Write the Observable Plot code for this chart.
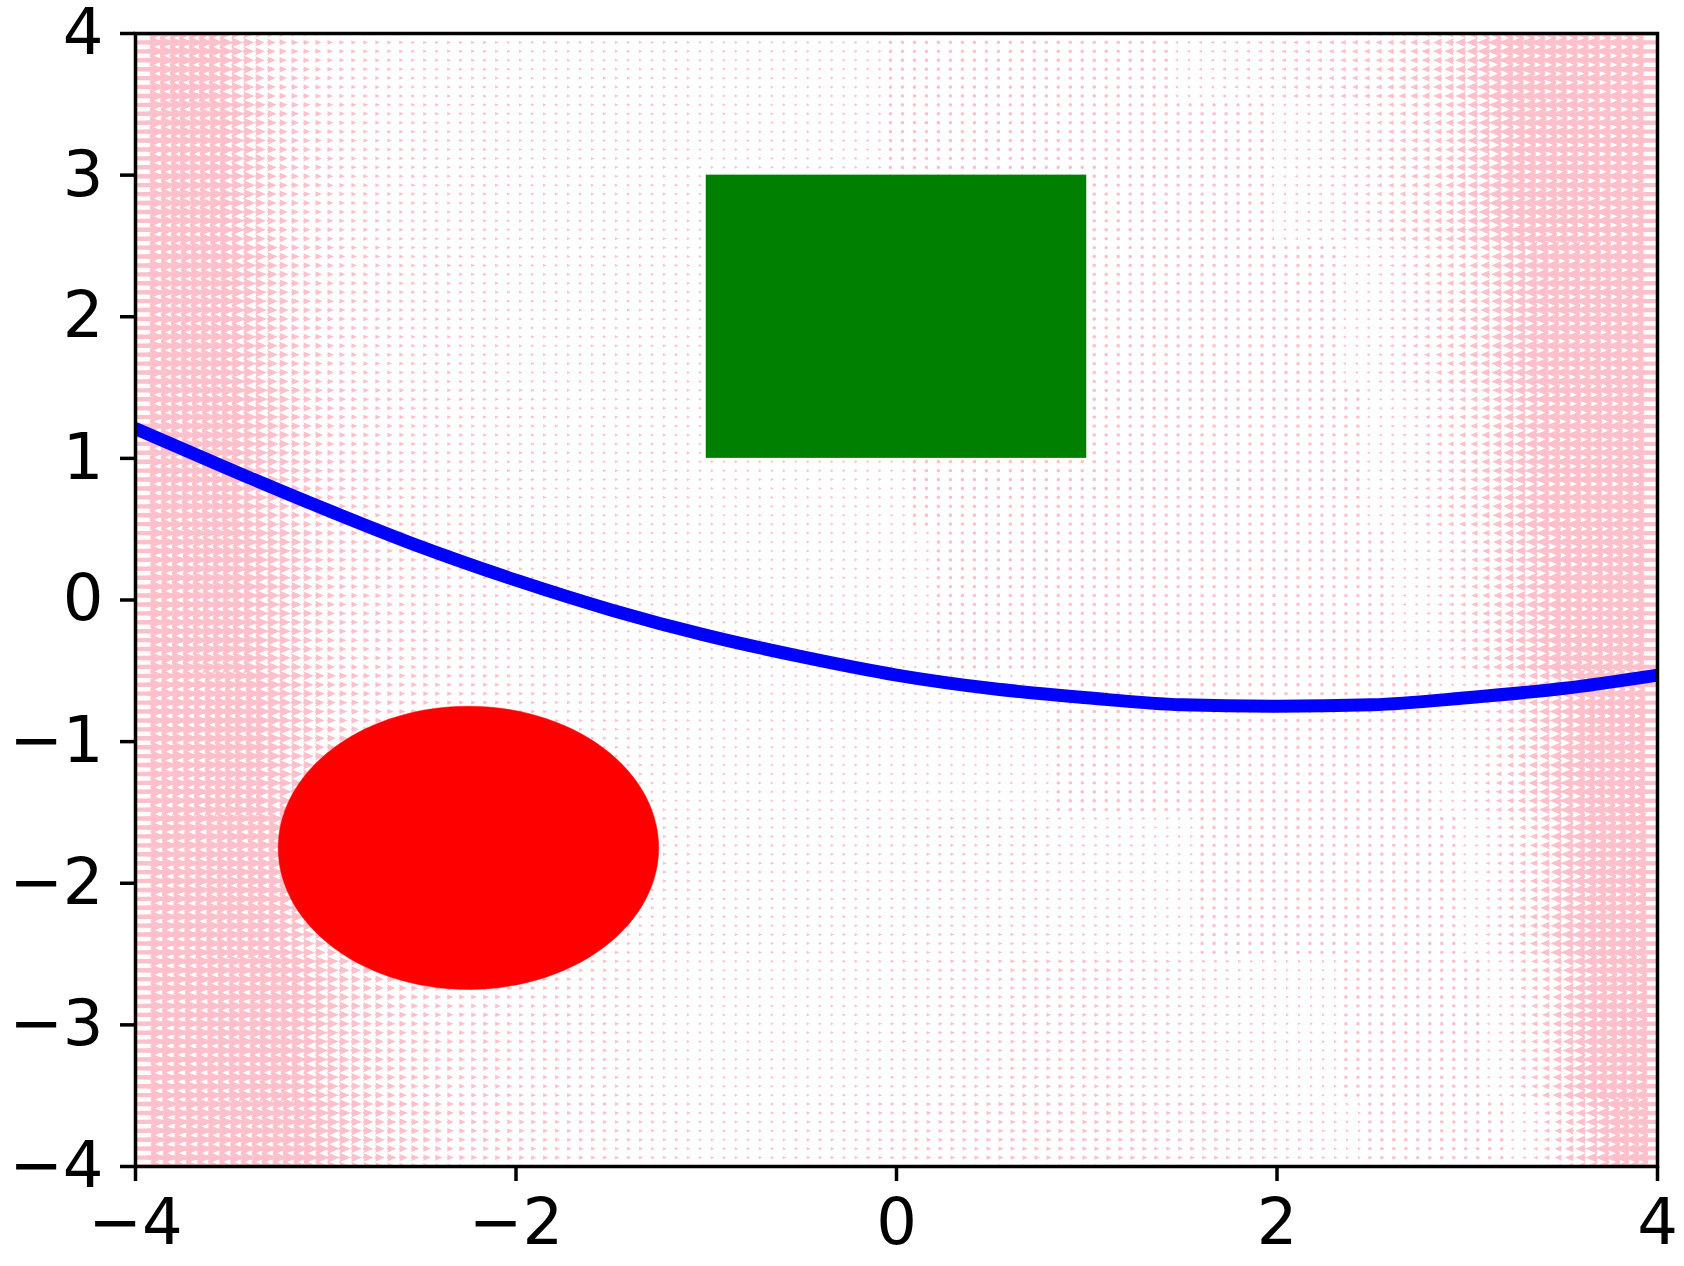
<!DOCTYPE html>
<html>
<head>
<meta charset="utf-8">
<style>html,body{margin:0;padding:0;background:#fff}</style>
<script src="https://cdn.jsdelivr.net/npm/d3@7"></script>
<script src="https://cdn.jsdelivr.net/npm/@observablehq/plot@0.6"></script>
</head>
<body>
<script>
const xTicks = [-4, -2, 0, 2, 4];
const yTicks = [-4, -3, -2, -1, 0, 1, 2, 3, 4];

const curveX = [-4, -3.5, -3, -2.5, -2, -1.5, -1, -0.5, 0, 0.5, 1, 1.5, 2, 2.5, 3, 3.5, 4];
const curveY = [1.21, 0.92, 0.64, 0.375, 0.14, -0.07, -0.25, -0.40, -0.53, -0.625, -0.69, -0.74, -0.75, -0.74, -0.69, -0.625, -0.53];

const rectX = [-1, 1];
const rectY = [1, 3];
const circleCentre = [-2.25, -1.75];
const circleRadius = 1;

// Signed arrow magnitude: one row per band y = 4, 3, ... -4,
// one value per arrow column (128 columns). Positive points right, negative left, 0 is a dot.
const fieldY4 = [29,27,25,22,20,18,16,14,12,11,9.5,8.5,7.8,7.3,6.8,6.3,5.8,5.3,5,5,4.9,4.6,4.4,4.1,4,4,4,4,4,4,3.9,3.6,
  3.5,3.5,3.5,3.5,3.5,3.5,3.5,3.5,3.5,3.5,3.5,3.5,3.5,3.5,3.4,3.1,3,3,3,3,3,3,3,3,3,3,3,3,3,3,3,0,
  0,0,0,0,0,0,0,0,0,0,0,0,0,0,0,0,0,0,0,0,0,0,0,-3,-3.1,-3.4,-3.6,-3.9,-4,-4,-4.1,-4.4,
  -4.6,-4.9,-5,-5,-5.3,-5.8,-6,-6,-6.3,-6.8,-7.3,-7.8,-8.3,-8.8,-9.5,-10.5,-11.5,-12.5,-14,-15,-16.5,-17.5,-19,-20,-21.5,-22.5,-23.5,-24.5,-25.5,-26.5,-27.5,-28.5];
const fieldY3 = [29,28,26,23,21,19,17,15,13,12,10.5,9.5,8.6,7.9,7.3,6.8,6.3,5.8,5.4,5.1,4.9,4.6,4.5,4.5,4.4,4.1,4,4,4,4,3.9,3.6,
  3.5,3.5,3.5,3.5,3.5,3.5,3.5,3.5,3.5,3.5,3.5,3.5,3.5,3.5,3.4,3.1,3,3,3,3,3,3,3,3,3,3,3,3,3,3,3,0,
  0,0,0,0,0,0,0,0,0,0,0,0,0,0,0,0,0,0,0,0,0,0,0,0,0,0,0,0,0,0,0,-3,
  -3.1,-3.4,-3.6,-3.9,-4.1,-4.4,-4.6,-4.9,-5.3,-5.8,-6.3,-6.8,-7.3,-7.8,-8.5,-9.5,-10.5,-11.5,-12.8,-14.2,-15.5,-16.5,-17.8,-19.2,-20.8,-22.2,-23.5,-24.5,-25.5,-26.5,-27.5,-28.5];
const fieldY2 = [29,28,26,24,22,20,18,16,14,13,11.5,10.5,9.5,8.5,7.8,7.3,6.8,6.3,5.9,5.6,5.4,5.1,4.9,4.6,4.5,4.5,4.4,4.1,4,4,3.9,3.6,
  3.5,3.5,3.5,3.5,3.5,3.5,3.5,3.5,3.5,3.5,3.5,3.5,3.5,3.5,3.4,3.1,3,3,3,3,3,3,3,3,3,3,3,3,3,3,3,0,
  0,0,0,0,0,0,0,0,0,0,0,0,0,0,0,0,0,0,0,0,0,0,0,0,0,0,0,0,0,0,0,0,0,0,0,0,0,-3,
  -3.1,-3.4,-3.8,-4.2,-4.8,-5.2,-5.8,-6.2,-6.9,-7.6,-8.5,-9.5,-10.5,-11.5,-12.8,-14.2,-15.8,-17.2,-18.8,-20.2,-21.8,-23.2,-24.8,-26.2,-27.5,-28.5];
const fieldY1 = [29,28,26,25,23,21,19,17,15,14,12.5,11.5,10.5,9.5,8.6,7.9,7.3,6.8,6.4,6.1,5.9,5.6,5.4,5.1,4.9,4.6,4.5,4.5,4.4,4.1,4,4,
  4,4,3.9,3.6,3.5,3.5,3.5,3.5,3.5,3.5,3.5,3.5,3.5,3.5,3.4,3.1,3,3,3,3,3,3,3,3,3,3,3,3,3,3,3,3,
  3,0,0,0,0,0,0,0,0,0,0,0,0,0,0,0,0,0,0,0,0,0,0,0,0,0,0,0,0,0,0,0,0,0,0,0,0,0,0,-3,
  -3.1,-3.4,-3.8,-4.2,-4.8,-5.2,-5.9,-6.6,-7.5,-8.5,-9.5,-10.5,-11.8,-13.2,-14.8,-16.2,-17.8,-19.2,-20.8,-22.2,-23.8,-25.2,-26.8,-28.2];
const fieldY0 = [29.5,28.5,27,26,24,22,20,18,16,15,13.5,12.5,11.5,10.5,9.5,8.5,7.8,7.3,6.9,6.6,6.4,6.1,5.9,5.6,5.4,5.1,5,5,4.9,4.6,4.4,4.1,
  4,4,4,4,4,4,3.9,3.6,3.5,3.5,3.5,3.5,3.5,3.5,3.4,3.1,3,3,3,3,3,3,3,3,3,3,3,3,3,3,3,3,
  3,3,3,0,0,0,0,0,0,0,0,0,0,0,0,0,0,0,0,0,0,0,0,0,0,0,0,0,0,0,0,0,0,0,0,0,0,0,0,0,0,-3,
  -3.1,-3.4,-3.8,-4.2,-4.9,-5.6,-6.5,-7.5,-8.5,-9.5,-10.8,-12.2,-13.8,-15.2,-16.8,-18.2,-19.8,-21.2,-23,-25,-26.8,-28.2];
const fieldYm1 = [29.5,28.5,27.5,26.5,25,24,22,20,18,17,15,14,12.5,11.5,10.5,9.5,8.8,8.3,7.8,7.3,6.9,6.6,6.4,6.1,5.9,5.6,5.4,5.1,5,5,4.9,4.6,
  4.5,4.5,4.4,4.1,4,4,4,4,4,4,3.9,3.6,3.5,3.5,3.4,3.1,3,3,3,3,3,3,3,3,3,3,3,3,3,3,3,3,
  3,3,3,3,3,3,3,3,3,3,3,3,3,0,0,0,0,0,0,0,0,0,0,0,0,0,0,0,0,0,0,0,0,0,0,0,0,0,0,0,0,0,0,0,0,-3,
  -3.3,-3.8,-4.4,-5.1,-6,-7,-8.1,-9.4,-10.8,-12.2,-13.8,-15.2,-17,-19,-21,-23,-25,-27];
const fieldYm2 = [29.8,29.2,28.5,27.5,26.5,25.5,24,22,20,19,17,16,14,13,11.5,10.5,9.8,9.3,8.8,8.3,7.8,7.3,6.9,6.6,6.4,6.1,5.9,5.6,5.5,5.5,5.4,5.1,
  5,5,4.9,4.6,4.5,4.5,4.5,4.5,4.4,4.1,4,4,4,4,3.9,3.6,3.5,3.5,3.5,3.5,3.5,3.5,3.5,3.5,3.5,3.5,3.5,3.5,3.5,3.5,
  3.5,3.5,3.6,3.9,4,4,4,4,4,4,4,4,4,4,3.9,3.6,3.5,3.5,3.5,3.5,3.5,3.5,3.4,3.1,3,3,3,0,0,0,0,0,
  0,0,0,0,0,0,0,0,0,0,0,0,0,0,0,0,0,-3,-3.4,-4.1,-4.9,-5.6,-6.6,-7.9,-9.4,-11.1,-12.8,-14.2,-16,-18,-20,-22,-24,-26];
const fieldYm3 = [29.8,29.2,28.8,28.2,27.5,26.5,25,24,22,21,19,18,16,15,13.5,12.5,11.5,10.5,9.8,9.3,8.8,8.3,7.8,7.3,6.9,6.6,6.4,6.1,6,6,5.8,5.3,
  5,5,5,5,4.9,4.6,4.5,4.5,4.4,4.1,3.9,3.6,3.4,3.1,3,3,3,3,3,3,3,3,3,3,3,3,3.1,3.4,3.5,3.5,3.6,3.9,
  4,4,4.1,4.4,4.5,4.5,4.5,4.5,4.6,4.9,5,5,5,5,5,5,5,5,4.9,4.6,4.5,4.5,4.4,4.1,4,4,3.9,3.6,3.5,3.5,
  3.4,3.1,3,3,3,3,3,0,0,0,0,0,0,0,0,0,0,0,0,-3,-3.5,-4.5,-5.5,-6.5,-7.8,-9.2,-11,-13,-15,-17,-19,-21,-23,-25];
const fieldYm4 = [30,30,29.8,29.2,28.5,27.5,26.5,25.5,24,23,21,20,18,17,15,14,12.5,11.5,10.8,10.3,9.8,9.3,8.8,8.3,7.8,7.3,6.9,6.6,6.4,6.1,6,6,
  5.9,5.6,5.4,5.1,5,5,4.9,4.6,4.5,4.5,4.4,4.1,4,4,3.9,3.6,3.5,3.5,3.5,3.5,3.5,3.5,3.6,3.9,4,4,4,4,4.1,4.4,
  4.5,4.5,4.6,4.9,5,5,5,5,5.1,5.4,5.5,5.5,5.5,5.5,5.5,5.5,5.5,5.5,5.5,5.5,5.5,5.5,5.4,5.1,5,5,5,5,4.9,4.6,4.5,4.5,
  4.4,4.1,4,4,3.9,3.6,3.4,3.1,3,0,0,0,0,0,0,0,0,0,0,0,0,-3,-3.5,-4.5,-5.8,-7.2,-8.8,-10.2,-12,-14,-16,-19,-21,-24];
const fieldRows = [fieldY4, fieldY3, fieldY2, fieldY1, fieldY0, fieldYm1, fieldYm2, fieldYm3, fieldYm4];

const pink = "#ffc0cb";
const black = "#000";
const sampleCount = 128;

// The arrows sit on a regular sample grid; each takes its magnitude from its row band and column.
const samples = d3.range(sampleCount).map((i) => -4 + (8 * i) / (sampleCount - 1));
const field = samples.flatMap((y) => {
  const row = fieldRows[Math.round(4 - y)];
  return samples.map((x, c) => ({
    x, y,
    length: Math.abs(row[c]),
    rotate: row[c] < 0 ? -90 : 90
  }));
});

const arrowShape = {
  draw(context, l) {
    if (l < 1) { // a vanishing arrow is drawn as a small dot
      const r = 1.9;
      context.moveTo(r, 0);
      for (let k = 1; k < 6; ++k) context.lineTo(r * Math.cos(k * Math.PI / 3), r * Math.sin(k * Math.PI / 3));
      context.closePath();
      return;
    }
    const headLength = 15, headHalf = 6.5, shaftHalf = 2.2;
    const s = Math.min(1, l / headLength);
    const hl = headLength * s, hh = Math.max(1.6, headHalf * s), sh = Math.max(0.8, shaftHalf * s);
    context.moveTo(-sh, 0);
    context.lineTo(-sh, -(l - hl * 0.9));
    context.lineTo(-hh, -(l - hl));
    context.lineTo(0, -l);
    context.lineTo(hh, -(l - hl));
    context.lineTo(sh, -(l - hl * 0.9));
    context.lineTo(sh, 0);
    context.closePath();
  }
};

const ellipsePoints = d3.range(0, 361, 3).map((deg) => ({
  x: circleCentre[0] + circleRadius * Math.cos(deg * Math.PI / 180),
  y: circleCentre[1] + circleRadius * Math.sin(deg * Math.PI / 180)
}));
const curve = curveX.map((x, i) => ({x, y: curveY[i]}));
const minus = (d) => String(d).replace("-", "\u2212");

const chart = Plot.plot({
  width: 1684,
  height: 1266,
  marginLeft: 135,
  marginRight: 27,
  marginTop: 33,
  marginBottom: 100,
  style: {fontFamily: "DejaVu Sans", background: "#fff", overflow: "visible"},
  x: {domain: [-4, 4], label: null},
  y: {domain: [-4, 4], label: null},
  length: {type: "linear", domain: [0, 30], range: [0, 30]},
  marks: [
    Plot.vector(field, {
      x: "x", y: "y", length: "length", rotate: "rotate",
      anchor: "start", shape: arrowShape, fill: pink, stroke: "none", clip: "frame"
    }),
    Plot.rect([{}], {x1: rectX[0], x2: rectX[1], y1: rectY[0], y2: rectY[1], fill: "#008000"}),
    Plot.line(ellipsePoints, {x: "x", y: "y", fill: "#ff0000", stroke: "#ff0000", strokeWidth: 0.5}),
    Plot.line(curve, {x: "x", y: "y", stroke: "#0000ff", strokeWidth: 13, curve: "monotone-x", clip: "frame"}),
    Plot.axisX({ticks: xTicks, tickSize: 15, tickPadding: 17, fontSize: 64, tickFormat: minus, strokeWidth: 3.5, stroke: black, color: black, label: null}),
    Plot.axisY({ticks: yTicks, tickSize: 15, tickPadding: 17, fontSize: 64, tickFormat: minus, strokeWidth: 3.5, stroke: black, color: black, label: null}),
    Plot.frame({stroke: black, strokeWidth: 3.5})
  ]
});
document.body.appendChild(chart);
</script>
</body>
</html>
